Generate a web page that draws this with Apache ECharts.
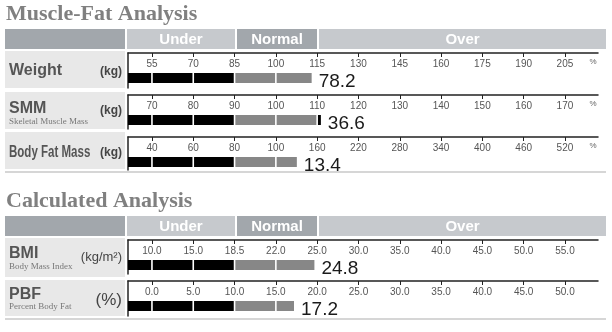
<!DOCTYPE html>
<html>
<head>
<meta charset="utf-8">
<style>
  html, body { margin: 0; padding: 0; background: #fff; }
  #chart { width: 612px; height: 332px; }
</style>
<script src="https://cdn.jsdelivr.net/npm/echarts@6/dist/echarts.min.js"></script>
</head>
<body>
<div id="chart"></div>
<script>
// row texts
var rowNames = ['Weight', 'SMM', 'Body Fat Mass', 'BMI', 'PBF'];
var rowSubNames = ['', 'Skeletal Muscle Mass', '', 'Body Mass Index', 'Percent Body Fat'];
var rowUnits = ['(kg)', '(kg)', '(kg)', '(kg/m²)', '(%)'];
var rangeNames = ['Under', 'Normal', 'Over'];
var sectionTitles = ['Muscle-Fat Analysis', 'Calculated Analysis'];

// tick labels of each scale
var weightTicks = [55, 70, 85, 100, 115, 130, 145, 160, 175, 190, 205];
var smmTicks = [70, 80, 90, 100, 110, 120, 130, 140, 150, 160, 170];
var fatTicks = [40, 60, 80, 100, 160, 220, 280, 340, 400, 460, 520];
var bmiTicks = [10, 15, 18.5, 22, 25, 30, 35, 40, 45, 50, 55];
var pbfTicks = [0, 5, 10, 15, 20, 25, 30, 35, 40, 45, 50];

// where each bar ends on its scale (% of standard for the first three)
var barLevels = [113, 110.9, 130.5, 24.8, 17.2];
var shownValues = ['78.2', '36.6', '13.4', '24.8', '17.2'];

var allTicks = [weightTicks, smmTicks, fatTicks, bmiTicks, pbfTicks];
var showPct = [true, true, true, false, false];
var decimals = [0, 0, 0, 1, 1];

// layout
var axisTop = [53, 95, 137, 240, 281];
var cellTop = [51, 92, 132, 238, 280];
var cellH = [37, 37, 37, 39, 36];
var gridH = [35, 34, 33, 34, 35];
var X_MIN = -0.58, X_MAX = 10.8;
var NORMAL_FROM = 2, NORMAL_TO = 4;

var chart = echarts.init(document.getElementById('chart'));

// scales are piecewise: value -> tick slot
function toSlot(ticks, v) {
  var n = ticks.length;
  if (v <= ticks[0]) return (v - ticks[0]) / (ticks[1] - ticks[0]);
  for (var i = 0; i < n - 1; i++) {
    if (v <= ticks[i + 1]) return i + (v - ticks[i]) / (ticks[i + 1] - ticks[i]);
  }
  return n - 1 + (v - ticks[n - 1]) / (ticks[n - 1] - ticks[n - 2]);
}

function renderBar(params, api) {
  var row = params.seriesIndex;
  var end = api.value(0);
  var cs = params.coordSys;
  var y = cs.y + 20, h = 10;
  var bounds = [X_MIN];
  for (var i = 0; i <= 10; i++) {
    if (i < end) bounds.push(i);
  }
  bounds.push(end);
  var children = [];
  for (var k = 0; k < bounds.length - 1; k++) {
    var a = bounds[k], b = bounds[k + 1];
    var mid = (a + b) / 2;
    var color = (mid > NORMAL_FROM && mid < NORMAL_TO) ? '#878787' : '#000';
    var xa = api.coord([a, 0])[0] + (k > 0 ? 0.8 : 0);
    var xb = api.coord([b, 0])[0] - (k < bounds.length - 2 ? 0.8 : 0);
    children.push({
      type: 'rect',
      shape: { x: xa, y: y, width: xb - xa, height: h },
      style: { fill: color }
    });
  }
  var endX = api.coord([end, 0])[0];
  children.push({
    type: 'text',
    style: {
      text: shownValues[row], x: endX + 7, y: y + h / 2 + 4,
      verticalAlign: 'middle', fill: '#1a1a1a',
      font: '19px "Liberation Sans", Arial, sans-serif'
    }
  });
  return { type: 'group', children: children };
}

var grids = [], xAxes = [], yAxes = [], series = [];
var tickSlots = [0, 1, 2, 3, 4, 5, 6, 7, 8, 9, 10];

rowNames.forEach(function (name, i) {
  grids.push({ left: 128, width: 470, top: axisTop[i], height: gridH[i] });
  xAxes.push({
    gridIndex: i, type: 'value', position: 'top', min: X_MIN, max: X_MAX,
    axisLine: { show: true, onZero: false, lineStyle: { color: '#222', width: 1.5 } },
    axisTick: { show: true, inside: true, length: 4, customValues: tickSlots, lineStyle: { color: '#222' } },
    axisLabel: {
      show: true, inside: true, margin: 6, customValues: tickSlots,
      fontSize: 10, color: '#555', fontFamily: 'Liberation Sans',
      formatter: (function (ticks, d) {
        return function (v) { return ticks[Math.round(v)].toFixed(d); };
      })(allTicks[i], decimals[i])
    },
    splitLine: { show: false }
  });
  yAxes.push({
    gridIndex: i, type: 'value', min: 0, max: 1,
    axisLine: { show: true, onZero: false, lineStyle: { color: '#222', width: 1.5 } },
    axisTick: { show: false }, axisLabel: { show: false }, splitLine: { show: false }
  });
  series.push({
    type: 'custom', xAxisIndex: i, yAxisIndex: i, clip: false,
    renderItem: renderBar,
    encode: { x: 0, y: 1 },
    data: [[toSlot(allTicks[i], barLevels[i]), 0]]
  });
});

// table decorations
var graphic = [];
var headTop = [29, 216];
var labelFont = '"Liberation Sans", Arial, sans-serif';

sectionTitles.forEach(function (t, s) {
  graphic.push({
    type: 'text',
    style: { text: t, x: 6, y: headTop[s] - 15, verticalAlign: 'middle', fill: '#808080',
      font: 'bold 22px "Liberation Serif", "Times New Roman", serif' }
  });
  var cells = [[5, 125, '#a2a7ac'], [127, 235, '#c6c9cd'], [237, 317, '#a2a7ac'], [319, 606, '#c6c9cd']];
  cells.forEach(function (c, j) {
    graphic.push({ type: 'rect', shape: { x: c[0], y: headTop[s], width: c[1] - c[0], height: 20 }, style: { fill: c[2] } });
    if (j > 0) {
      graphic.push({
        type: 'text',
        style: { text: rangeNames[j - 1], x: (c[0] + c[1]) / 2, y: headTop[s] + 10.5, align: 'center', verticalAlign: 'middle',
          fill: '#fff', font: 'bold 15px ' + labelFont }
      });
    }
  });
});

// bottom lines of each section
[172, 319].forEach(function (y) {
  graphic.push({ type: 'rect', shape: { x: 5, y: y - 1, width: 601, height: 2 }, style: { fill: '#d6d6d6' } });
});

var nameY = [71, 109, 153, 254, 295];
var subY = [0, 122, 0, 267, 307];
var unitY = [72, 111, 153, 257, 300];
var unitFont = ['bold 12px ', 'bold 12px ', 'bold 12px ', '13px ', '17px '];

rowNames.forEach(function (name, i) {
  graphic.push({ type: 'rect', shape: { x: 5, y: cellTop[i], width: 120, height: cellH[i] }, style: { fill: '#e8e8e8' } });
  graphic.push({
    type: 'text', x: 9, y: nameY[i], scaleX: i === 2 ? 0.72 : 1,
    style: { text: name, x: 0, y: 0, verticalAlign: 'middle', fill: '#555', font: 'bold 16px ' + labelFont }
  });
  if (rowSubNames[i]) {
    graphic.push({
      type: 'text',
      style: { text: rowSubNames[i], x: 9, y: subY[i], verticalAlign: 'middle', fill: '#777',
        font: '9px "Liberation Serif", "Times New Roman", serif' }
    });
  }
  graphic.push({
    type: 'text',
    style: { text: rowUnits[i], x: 122, y: unitY[i], align: 'right', verticalAlign: 'middle', fill: '#444',
      font: unitFont[i] + labelFont }
  });
  if (showPct[i]) {
    graphic.push({
      type: 'text',
      style: { text: '%', x: 593, y: axisTop[i] + 9, align: 'center', verticalAlign: 'middle', fill: '#666',
        font: '8px ' + labelFont }
    });
  }
});

chart.setOption({
  animation: false,
  grid: grids,
  xAxis: xAxes,
  yAxis: yAxes,
  series: series,
  graphic: graphic
});
</script>
</body>
</html>
